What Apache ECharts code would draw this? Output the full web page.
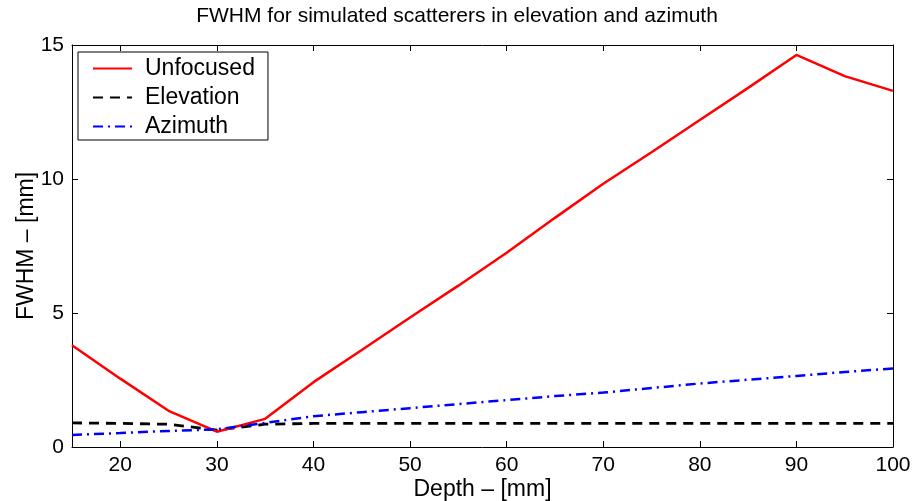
<!DOCTYPE html>
<html>
<head>
<meta charset="utf-8">
<script src="https://cdn.jsdelivr.net/npm/echarts@6/dist/echarts.min.js"></script>
<style>html,body{margin:0;padding:0;background:#fff;}#c{width:914px;height:501px;}</style>
</head>
<body>
<div id="c"></div>
<script>
const depth = [15, 20, 25, 30, 35, 40, 45, 50, 55, 60, 65, 70, 75, 80, 85, 90, 95, 100];
const unfocused = [3.80, 2.55, 1.35, 0.57, 1.05, 2.42, 3.62, 4.83, 6.02, 7.25, 8.55, 9.82, 11.0, 12.2, 13.4, 14.63, 13.84, 13.29];
const elevation = [0.90, 0.88, 0.85, 0.63, 0.85, 0.88, 0.88, 0.88, 0.88, 0.88, 0.88, 0.88, 0.88, 0.88, 0.88, 0.88, 0.88, 0.88];
const azimuth = [0.45, 0.52, 0.60, 0.66, 0.90, 1.15, 1.30, 1.45, 1.60, 1.75, 1.90, 2.03, 2.20, 2.37, 2.51, 2.65, 2.80, 2.93];
const xTickLabels = ['20', '30', '40', '50', '60', '70', '80', '90', '100'];
const yTickLabels = ['0', '5', '10', '15'];

const FONT = 'Liberation Sans, Arial, Helvetica, sans-serif';
const chart = echarts.init(document.getElementById('c'));
const pair = arr => depth.map((d, i) => [d, arr[i]]);
const axisCommon = {
  axisLine: { show: true, onZero: false, lineStyle: { color: '#000', width: 1 } },
  axisTick: { show: true, inside: true, length: 6, lineStyle: { color: '#000' } },
  splitLine: { show: false }
};
chart.setOption({
  animation: false,
  backgroundColor: '#fff',
  title: {
    text: 'FWHM for simulated scatterers in elevation and azimuth',
    left: 'center', top: 1,
    textStyle: { fontFamily: FONT, fontSize: 21, fontWeight: 'normal', color: '#000' }
  },
  grid: { left: 72, right: 21, top: 45, bottom: 54, containLabel: false, outerBoundsMode: 'none' },
  legend: {
    orient: 'vertical', left: 78, top: 52,
    padding: [5, 13, 2, 14],
    itemGap: 6, itemWidth: 39, itemHeight: 14,
    borderColor: '#000', borderWidth: 1, borderRadius: 0,
    backgroundColor: '#fff',
    itemStyle: { opacity: 0 },
    textStyle: { fontFamily: FONT, fontSize: 23, color: '#000', lineHeight: 22, padding: [0, 0, 0, 8] },
    data: ['Unfocused', 'Elevation', 'Azimuth']
  },
  xAxis: [
    Object.assign({
      type: 'value', min: 15, max: 100, splitNumber: 8, minInterval: 10, maxInterval: 10,
      name: 'Depth \u2013 [mm]', nameLocation: 'middle', nameGap: 31, nameMoveOverlap: false,
      nameTextStyle: { fontFamily: FONT, fontSize: 23, color: '#000' },
      axisLabel: {
        fontFamily: FONT, fontSize: 21, color: '#000', margin: 8,
        formatter: v => (xTickLabels.indexOf(String(v)) >= 0 ? String(v) : '')
      }
    }, axisCommon),
    Object.assign({
      type: 'value', min: 15, max: 100, splitNumber: 8, minInterval: 10, maxInterval: 10,
      position: 'top', axisLabel: { show: false }
    }, axisCommon)
  ],
  yAxis: [
    Object.assign({
      type: 'value', min: 0, max: 15, interval: 5,
      name: 'FWHM \u2013 [mm]', nameLocation: 'middle', nameGap: 34, nameMoveOverlap: false,
      nameTextStyle: { fontFamily: FONT, fontSize: 23, color: '#000' },
      axisLabel: {
        fontFamily: FONT, fontSize: 21, color: '#000', margin: 8,
        formatter: v => (yTickLabels.indexOf(String(v)) >= 0 ? String(v) : '')
      }
    }, axisCommon),
    Object.assign({
      type: 'value', min: 0, max: 15, interval: 5, position: 'right',
      axisLabel: { show: false }
    }, axisCommon)
  ],
  series: [
    {
      name: 'Unfocused', type: 'line', data: pair(unfocused), symbol: 'none',
      itemStyle: { color: '#ff0000' },
      lineStyle: { color: '#ff0000', width: 2.5 }, z: 3
    },
    {
      name: 'Elevation', type: 'line', data: pair(elevation), symbol: 'none',
      itemStyle: { color: '#000' },
      lineStyle: { color: '#000', width: 2.8, type: [10, 7] }, z: 2
    },
    {
      name: 'Azimuth', type: 'line', data: pair(azimuth), symbol: 'none',
      itemStyle: { color: '#0000ff' },
      lineStyle: { color: '#0000ff', width: 2.5, type: [10, 5, 2, 5] }, z: 4
    }
  ]
});
</script>
</body>
</html>
